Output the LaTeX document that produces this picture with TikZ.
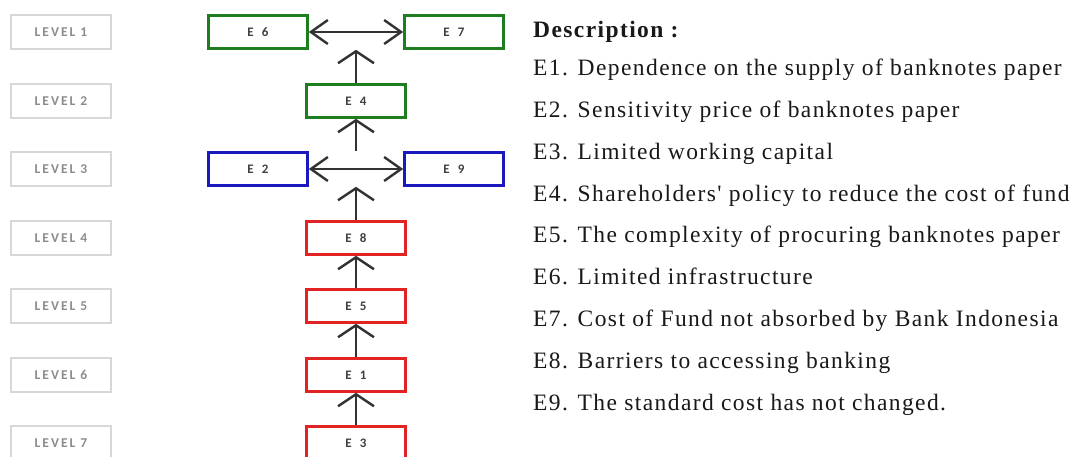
\documentclass[tikz,border=0pt]{standalone}
\usepackage{fontspec}
\setmainfont{Liberation Serif}
\newfontfamily\descfont[LetterSpace=6]{Liberation Serif}
\newfontfamily\lvlfont[LetterSpace=15]{Carlito}
\newfontfamily\efont[LetterSpace=40]{Carlito}
\usetikzlibrary{arrows.meta}
\definecolor{egreen}{RGB}{30,125,30}
\definecolor{eblue}{RGB}{25,25,190}
\definecolor{ered}{RGB}{225,35,35}
\definecolor{arr}{RGB}{50,50,50}
\definecolor{lvlborder}{RGB}{215,215,215}
\definecolor{lvltext}{RGB}{140,140,140}
\begin{document}
\begin{tikzpicture}[x=1pt,y=-1pt,
 lvlbox/.style={draw=lvlborder,line width=1.2pt,minimum width=100pt,minimum height=34pt,inner sep=0pt,font=\lvlfont\fontsize{13.5}{15}\selectfont\bfseries,text=lvltext},
 ebox/.style={draw=#1,line width=2.6pt,minimum width=99pt,minimum height=33pt,inner sep=0pt,font=\efont\fontsize{13}{15}\selectfont\bfseries,text=black!75,fill=white},
 varr/.style={draw=arr,line width=2.4pt,-{Straight Barb[length=12pt,width=36pt]}},
 harr/.style={draw=arr,line width=2.4pt,{Straight Barb[length=17pt,width=24pt]}-{Straight Barb[length=17pt,width=24pt]}},
 desc/.style={anchor=base west,inner sep=0pt,font=\descfont\fontsize{23.5}{26}\selectfont,text=black!90}]
\fill[white] (0,0) rectangle (1080,457);
\useasboundingbox (0,0) rectangle (1080,457);
% level labels
\node[lvlbox] (L1) at (61,32) {LEVEL 1};
\node[lvlbox] (L2) at (61,101) {LEVEL 2};
\node[lvlbox] (L3) at (61,169) {LEVEL 3};
\node[lvlbox] (L4) at (61,238) {LEVEL 4};
\node[lvlbox] (L5) at (61,306) {LEVEL 5};
\node[lvlbox] (L6) at (61,375) {LEVEL 6};
\node[lvlbox] (L7) at (61,443) {LEVEL 7};
% element boxes
\node[ebox=egreen] (E6) at (258,32) {E 6};
\node[ebox=egreen] (E7) at (454,32) {E 7};
\node[ebox=egreen] (E4) at (356,101) {E 4};
\node[ebox=eblue] (E2) at (258,169) {E 2};
\node[ebox=eblue] (E9) at (454,169) {E 9};
\node[ebox=ered] (E8) at (356,238) {E 8};
\node[ebox=ered] (E5) at (356,306) {E 5};
\node[ebox=ered] (E1) at (356,375) {E 1};
\node[ebox=ered] (E3) at (356,443) {E 3};
% helper coordinates
\coordinate (t1) at (E4 |- E6.south);
\coordinate (b3) at (E4 |- E2.north);
\coordinate (t3) at (E8 |- E2.south);
% connectors
\draw[harr] (E6.east) -- (E7.west);
\draw[harr] (E2.east) -- (E9.west);
\draw[varr] (E4.north) -- (t1);
\draw[varr] (b3) -- (E4.south);
\draw[varr] (E8.north) -- (t3);
\draw[varr] (E5.north) -- (E8.south);
\draw[varr] (E1.north) -- (E5.south);
\draw[varr] (E3.north) -- (E1.south);
% description
\node[desc] (D0) at (533,38) {\bfseries Description :};
\node[desc] (D1) at (533,76) {E1. Dependence on the supply of banknotes paper};
\node[desc] (D2) at (533,117.75) {E2. Sensitivity price of banknotes paper};
\node[desc] (D3) at (533,159.5) {E3. Limited working capital};
\node[desc] (D4) at (533,201.25) {E4. Shareholders' policy to reduce the cost of fund};
\node[desc] (D5) at (533,243) {E5. The complexity of procuring banknotes paper};
\node[desc] (D6) at (533,284.75) {E6. Limited infrastructure};
\node[desc] (D7) at (533,326.5) {E7. Cost of Fund not absorbed by Bank Indonesia};
\node[desc] (D8) at (533,368.25) {E8. Barriers to accessing banking};
\node[desc] (D9) at (533,410) {E9. The standard cost has not changed.};
\end{tikzpicture}
\end{document}
